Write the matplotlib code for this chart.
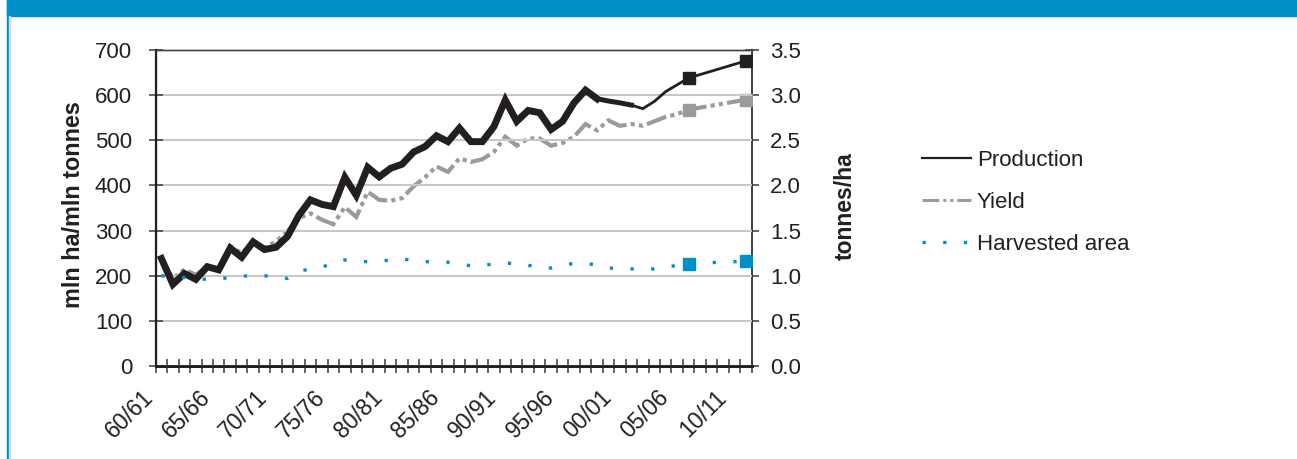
import matplotlib
matplotlib.use("Agg")
import matplotlib.pyplot as plt
import matplotlib.transforms as mtransforms
from matplotlib.lines import Line2D
from matplotlib.patches import Rectangle
import numpy as np

plt.rcParams['font.family'] = ['Liberation Sans', 'DejaVu Sans']

# ---- data -------------------------------------------------------------
seasons = ["60/61", "61/62", "62/63", "63/64", "64/65", "65/66", "66/67", "67/68",
           "68/69", "69/70", "70/71", "71/72", "72/73", "73/74", "74/75", "75/76",
           "76/77", "77/78", "78/79", "79/80", "80/81", "81/82", "82/83", "83/84",
           "84/85", "85/86", "86/87", "87/88", "88/89", "89/90", "90/91", "91/92",
           "92/93", "93/94", "94/95", "95/96", "96/97", "97/98", "98/99", "99/00",
           "00/01", "01/02", "02/03", "03/04", "04/05", "05/06", "06/07", "07/08",
           "08/09", "09/10", "10/11", "11/12"]
tick_labels = ["60/61", "65/66", "70/71", "75/76", "80/81", "85/86",
               "90/91", "95/96", "00/01", "05/06", "10/11"]

nan = np.nan
# production, mln tonnes
production = [238, 181, 205, 192, 220, 213, 261, 241, 275, 258,
              263, 287, 334, 368, 358, 353, 418, 378, 440, 419,
              438, 447, 474, 486, 510, 497, 527, 497, 497, 530,
              589, 542, 566, 561, 524, 542, 583, 611, 592, 587,
              583, 578, 570, 586, 608, 623, 638, nan, nan, nan,
              nan, 676]
# yield, tonnes/ha
yields = [1.19, 0.97, 1.07, 1.01, 1.10, 1.08, 1.33, 1.25, 1.37, 1.31,
          1.38, 1.49, 1.64, 1.69, 1.62, 1.57, 1.76, 1.65, 1.93, 1.84,
          1.83, 1.86, 1.99, 2.09, 2.21, 2.15, 2.30, 2.26, 2.29, 2.37,
          2.54, 2.44, 2.52, 2.52, 2.44, 2.47, 2.54, 2.68, 2.61, 2.72,
          2.66, 2.68, 2.66, 2.71, 2.76, 2.79, 2.84, nan, nan, nan,
          nan, 2.95]
# harvested area, mln ha
area = [200, 198, 196, 193, 192, 193, 196, 199, 200, 200,
        196, 194, 210, 215, 219, 228, 235, 232, 231, 232,
        235, 237, 234, 231, 231, 230, 226, 222, 223, 226,
        229, 225, 223, 219, 217, 224, 227, 227, 224, 217,
        216, 215, 215, 215, 219, 223, 227, nan, nan, nan,
        nan, 232]
marked = [46, 51]   # seasons highlighted with square markers

# ---- styling ----------------------------------------------------------
BLUE = "#0090c8"
GREY = "#9b9b9c"
BLACK = "#231f20"
GRID = "#c8c8c8"

W, H = 1297, 459
fig = plt.figure(figsize=(W / 100, H / 100), dpi=100)
fig.patch.set_facecolor("white")

# page frame: blue header band and left rule
fig.patches.append(Rectangle((6.7 / W, 1 - 16 / H), 1 - 6.7 / W, 16 / H,
                             transform=fig.transFigure, color=BLUE, zorder=0))
fig.patches.append(Rectangle((6.7 / W, 0), 2.6 / W, 1,
                             transform=fig.transFigure, color=BLUE, zorder=0))
fig.patches.append(Rectangle((9.3 / W, 0), 1.0 / W, 1 - 16 / H,
                             transform=fig.transFigure, color="#bfe2f1", zorder=0))

x0, x1 = 155.7, 751.7
y0, y1 = 366, 50
rect = [x0 / W, 1 - y0 / H, (x1 - x0) / W, (y0 - y1) / H]
ax = fig.add_axes(rect)
ax2 = ax.twinx()
ax.set_zorder(2)
ax2.set_zorder(1)
ax.patch.set_visible(False)

x = np.arange(len(seasons))
prod = np.array(production, float)
yl = np.array(yields, float)
ar = np.array(area, float)

def valid(arr):
    m = ~np.isnan(arr)
    return x[m], arr[m]

ax.set_xlim(-0.5, len(seasons) - 0.5)
ax.set_ylim(0, 700)
ax2.set_ylim(0, 3.5)
left_ticks = np.arange(0, 701, 100)
right_ticks = np.arange(0, 3.51, 0.5)

# horizontal grid
ax.set_yticks(left_ticks)
ax.yaxis.grid(True, color=GRID, linewidth=1.5)
ax.set_axisbelow(True)

# yield on the right axis (drawn underneath)
xv, yv = valid(yl)
ax2.plot(xv, yv, color=GREY, lw=3.0, linestyle=(0, (5, 1, 1, 1, 1, 1)),
         solid_joinstyle="miter", dash_joinstyle="miter", zorder=2)
ax2.plot(marked, yl[marked], "s", color=GREY, ms=8.6, mec=GREY, zorder=3)

# production: heavy line for the main series, lighter line towards the end
xp, pp = valid(prod)
seg1 = xp <= 38
seg2 = (xp >= 38) & (xp <= 41)
seg3 = xp >= 41
ax.plot(xp[seg1], pp[seg1], color=BLACK, lw=5.0, solid_joinstyle="miter")
ax.plot(xp[seg2], pp[seg2], color=BLACK, lw=3.6, solid_joinstyle="miter")
ax.plot(xp[seg3], pp[seg3], color=BLACK, lw=2.0, solid_joinstyle="miter")
ax.plot(marked, prod[marked], "s", color=BLACK, ms=8.2, mec=BLACK)

# harvested area
xa, aa = valid(ar)
ax.plot(xa, aa, color=BLUE, lw=2.4, linestyle=(0, (1, 5.2)))
ax.plot(marked, ar[marked], "s", color=BLUE, ms=8.6, mec=BLUE)

# ticks
ax2.set_yticks(right_ticks)
ax2.set_yticklabels([f"{v:.1f}" for v in right_ticks])

ax.set_xticks([seasons.index(t) for t in tick_labels])
ax.set_xticklabels(tick_labels, rotation=45, ha="right", va="center",
                   rotation_mode="anchor")
ax.set_xticks(np.arange(-0.5, len(seasons), 1.0), minor=True)
ax.tick_params(axis="x", which="major", length=0, pad=0, labelsize=16.5,
               labelcolor=BLACK)
ax.tick_params(axis="x", which="minor", direction="inout", length=10,
               width=1.1, color="#3a3a3a")
offset = mtransforms.ScaledTranslation(-0.12, -0.28, fig.dpi_scale_trans)
for lab in ax.get_xticklabels():
    lab.set_transform(lab.get_transform() + offset)

ax.tick_params(axis="y", direction="inout", length=10, width=1.1,
               color="#3a3a3a", pad=12, labelsize=16, labelcolor=BLACK)
ax2.tick_params(axis="y", direction="inout", length=10, width=1.1,
                color="#3a3a3a", pad=8, labelsize=16, labelcolor=BLACK)

for a in (ax, ax2):
    for s in a.spines.values():
        s.set_color(BLACK)
    a.spines["top"].set_color("#444444")
    a.spines["top"].set_linewidth(1.0)
ax.spines["left"].set_linewidth(1.6)
ax.spines["bottom"].set_linewidth(2.0)
ax2.spines["bottom"].set_linewidth(2.0)
ax2.spines["right"].set_linewidth(1.2)
ax.spines["right"].set_visible(False)

# axis titles
fig.text(74 / W, 1 - 205 / H, "mln ha/mln tonnes", rotation=90, ha="center",
         va="center", fontsize=16.8, fontweight="bold", color=BLACK)
fig.text(845 / W, 1 - 206 / H, "tonnes/ha", rotation=90, ha="center",
         va="center", fontsize=16.5, fontweight="bold", color=BLACK)

# legend
handles = [
    Line2D([], [], color=BLACK, lw=1.6),
    Line2D([], [], color=GREY, lw=2.2, linestyle=(0, (5.5, 1.3, 1, 1.3, 1, 1.3))),
    Line2D([], [], color=BLUE, lw=2.4, linestyle=(0, (1, 5.2))),
]
fig.legend(handles, ["Production", "Yield", "Harvested area"],
           loc="upper left", bbox_to_anchor=(922 / W, 1 - 150 / H),
           frameon=False, fontsize=16, handlelength=2.2, handletextpad=0.27,
           labelspacing=0.94, borderpad=0, borderaxespad=0,
           labelcolor=BLACK)

fig.savefig("out.png", dpi=100)
